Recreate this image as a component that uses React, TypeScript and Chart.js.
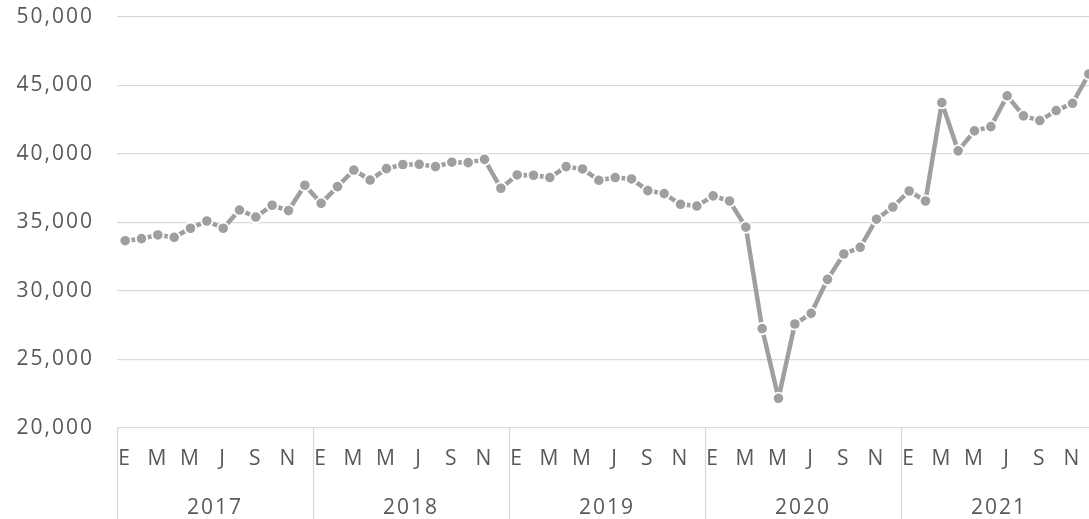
import React, { useEffect, useRef } from "react";
import { Chart, registerables } from "chart.js";

Chart.register(...registerables);

const years = ["2017", "2018", "2019", "2020", "2021"];
const monthLetters = ["E", "F", "M", "A", "M", "J", "J", "A", "S", "O", "N", "D"];
const yTicks = [20000, 25000, 30000, 35000, 40000, 45000, 50000];

const values2017 = [33670, 33820, 34090, 33920, 34580, 35110, 34580, 35910, 35400, 36260, 35870, 37720];
const values2018 = [36400, 37620, 38830, 38100, 38930, 39230, 39250, 39080, 39400, 39370, 39610, 37500];
const values2019 = [38470, 38450, 38280, 39080, 38910, 38080, 38280, 38180, 37330, 37110, 36330, 36200];
const values2020 = [36940, 36570, 34660, 27250, 22170, 27590, 28370, 30850, 32700, 33190, 35240, 36130];
const values2021 = [37300, 36570, 43750, 40230, 41690, 42000, 44250, 42780, 42440, 43170, 43700, 45840];

const values = [...values2017, ...values2018, ...values2019, ...values2020, ...values2021];
const labels = years.flatMap((y) => monthLetters.map((m) => `${m} ${y}`));

const FONT = "'Open Sans', 'DejaVu Sans', sans-serif";
const TEXT = "#595959";
const GRID = "#d9d9d9";
const LINE = "#9f9f9f";

const textSpacing = {
  id: "textSpacing",
  beforeDraw(chart: any) {
    chart.ctx.letterSpacing = "2px";
  },
};

const yearSeparators = {
  id: "yearSeparators",
  afterDraw(chart: any) {
    const xs = chart.scales.x;
    const ctx = chart.ctx;
    const per = (xs.right - xs.left) / years.length;
    ctx.save();
    ctx.strokeStyle = GRID;
    ctx.lineWidth = 1.3;
    for (let k = 0; k <= years.length; k++) {
      const x = Math.round(xs.left + k * per) + 0.5;
      ctx.beginPath();
      ctx.moveTo(x, chart.chartArea.bottom);
      ctx.lineTo(x, chart.height);
      ctx.stroke();
    }
    ctx.restore();
  },
};

const zeroPad = (s: any) => {
  s.paddingLeft = 0;
  s.paddingRight = 0;
  s.paddingTop = 0;
  s.paddingBottom = 0;
};

export default function App() {
  const ref = useRef<HTMLCanvasElement>(null);
  useEffect(() => {
    if (!ref.current) return;
    const chart = new Chart(ref.current, {
      type: "line",
      data: {
        labels,
        datasets: [
          {
            data: values,
            borderColor: LINE,
            backgroundColor: LINE,
            borderWidth: 4.5,
            borderJoinStyle: "round",
            pointRadius: 5.7,
            pointBackgroundColor: LINE,
            pointBorderColor: "#ffffff",
            pointBorderWidth: 1.8,
            tension: 0,
            clip: false as any,
          },
        ],
      },
      options: {
        animation: false,
        responsive: false,
        layout: { autoPadding: false, padding: { top: 17, left: 0, right: 0, bottom: 0 } },
        plugins: { legend: { display: false }, tooltip: { enabled: false } },
        scales: {
          y: {
            min: 20000,
            max: 50000,
            afterBuildTicks: (s: any) => {
              s.ticks = yTicks.map((v) => ({ value: v }));
            },
            afterFit: (s: any) => {
              s.width = 117;
              zeroPad(s);
            },
            ticks: {
              padding: 23,
              color: TEXT,
              font: { family: FONT, size: 21 },
              callback: (v: any) => Number(v).toLocaleString("en-US"),
            },
            grid: { color: GRID, lineWidth: 1.3, drawTicks: false },
            border: { display: false },
          },
          x: {
            type: "category",
            offset: true,
            weight: 0,
            afterFit: (s: any) => {
              s.height = 55;
              zeroPad(s);
            },
            grid: { display: false, drawTicks: false },
            border: { display: false },
            ticks: {
              autoSkip: false,
              maxRotation: 0,
              minRotation: 0,
              padding: 18,
              color: TEXT,
              font: { family: FONT, size: 21 },
              callback: (_v: any, i: number) => (i % 2 === 0 ? monthLetters[i % 12] : ""),
            },
          },
          x2: {
            type: "category",
            labels: years,
            position: "bottom",
            offset: true,
            weight: 1,
            afterFit: (s: any) => {
              s.height = 36;
              zeroPad(s);
            },
            grid: { display: false, drawTicks: false },
            border: { display: false },
            ticks: {
              padding: 12,
              maxRotation: 0,
              color: TEXT,
              font: { family: FONT, size: 21 },
            },
          },
        },
      },
      plugins: [textSpacing, yearSeparators],
    });
    return () => chart.destroy();
  }, []);

  return (
    <div
      style={{
        position: "absolute",
        left: 0,
        top: 0,
        width: 1089,
        height: 519,
        overflow: "hidden",
        background: "#ffffff",
      }}
    >
      <canvas ref={ref} width={1097} height={519} style={{ display: "block" }} />
    </div>
  );
}
